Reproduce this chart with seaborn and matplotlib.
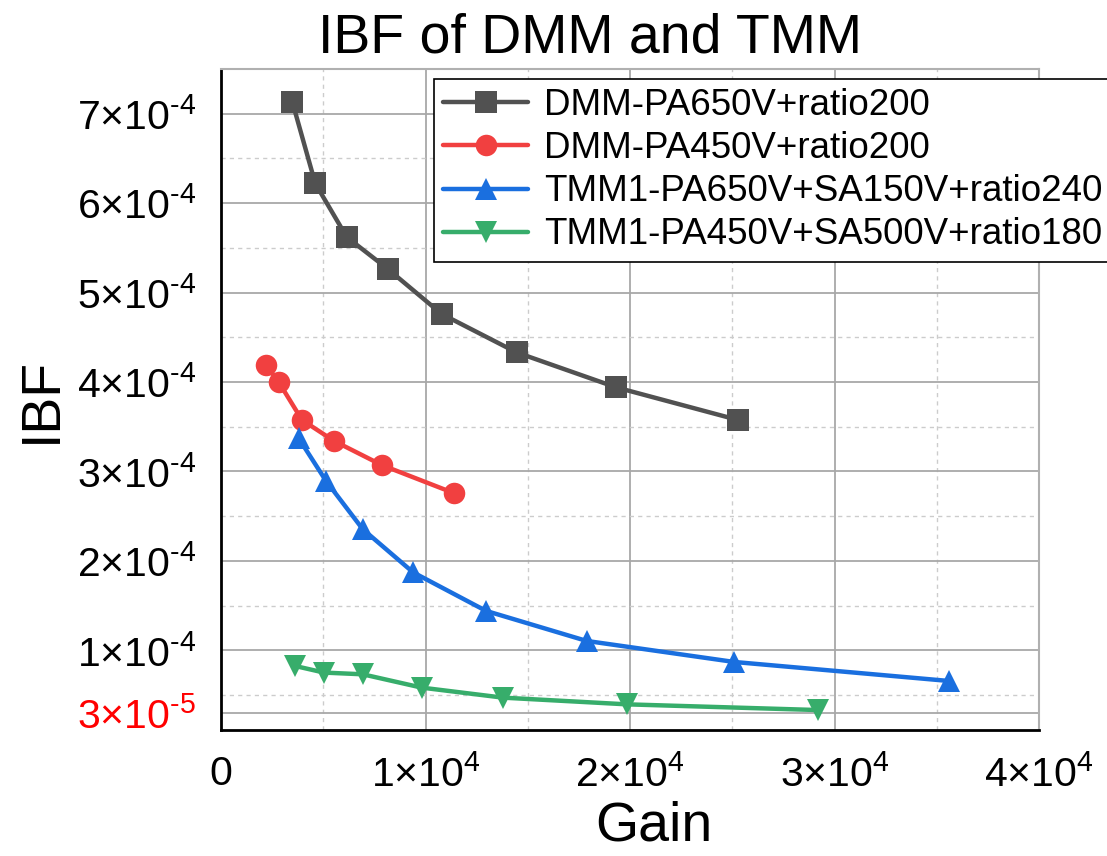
import numpy as np
import pandas as pd
import seaborn as sns
import matplotlib
matplotlib.use("Agg")
import matplotlib.pyplot as plt
from matplotlib.ticker import FixedLocator, MultipleLocator

# ---- data ----
labels = ["DMM-PA650V+ratio200", "DMM-PA450V+ratio200",
          "TMM1-PA650V+SA150V+ratio240", "TMM1-PA450V+SA500V+ratio180"]
gain_dmm650 = [3490, 4610, 6150, 8150, 10790, 14460, 19320, 25280]
ibf_dmm650 = [7.13e-4, 6.22e-4, 5.62e-4, 5.265e-4, 4.76e-4, 4.33e-4, 3.94e-4, 3.575e-4]
gain_dmm450 = [2190, 2820, 3960, 5530, 7870, 11390]
ibf_dmm450 = [4.19e-4, 4.00e-4, 3.575e-4, 3.34e-4, 3.07e-4, 2.757e-4]
gain_tmm650 = [3800, 5130, 6930, 9400, 12960, 17880, 25090, 35610]
ibf_tmm650 = [3.37e-4, 2.895e-4, 2.354e-4, 1.87e-4, 1.44e-4, 1.104e-4, 0.869e-4, 0.656e-4]
gain_tmm450 = [3620, 5040, 6930, 9810, 13780, 19840, 29210]
ibf_tmm450 = [0.824e-4, 0.75e-4, 0.731e-4, 0.582e-4, 0.47e-4, 0.395e-4, 0.331e-4]

y_ticks = [3e-5, 1e-4, 2e-4, 3e-4, 4e-4, 5e-4, 6e-4, 7e-4]
y_ticklabels = [r"$3{\times}10^{\text{-}5}$"] + [r"$%d{\times}10^{\text{-}4}$" % i for i in range(1, 8)]
x_ticks = [0, 1e4, 2e4, 3e4, 4e4]
x_ticklabels = ["0"] + [r"$%d{\times}10^{4}$" % i for i in range(1, 5)]

colors = ["#515151", "#F14040", "#1A6FDF", "#37AD6B"]
markers = ["s", "o", "^", "v"]

frames = []
for lab, g, v in zip(labels,
                     [gain_dmm650, gain_dmm450, gain_tmm650, gain_tmm450],
                     [ibf_dmm650, ibf_dmm450, ibf_tmm650, ibf_tmm450]):
    frames.append(pd.DataFrame({"Gain": g, "IBF": v, "series": lab}))
df = pd.concat(frames, ignore_index=True)

# ---- style ----
sns.set_theme(style="white")
plt.rcParams["font.family"] = ["Liberation Sans", "DejaVu Sans"]
plt.rcParams["mathtext.fontset"] = "custom"
plt.rcParams["mathtext.rm"] = "Liberation Sans"
plt.rcParams["mathtext.it"] = "Liberation Sans:italic"
plt.rcParams["mathtext.bf"] = "Liberation Sans:bold"
for k in ["text.color", "axes.labelcolor", "xtick.color", "ytick.color"]:
    plt.rcParams[k] = "black"

fig = plt.figure(figsize=(11.07, 8.56), dpi=100)
ax = fig.add_axes([221 / 1107, 1 - 730 / 856, (1039 - 221) / 1107, (730 - 69) / 856])

sns.lineplot(data=df, x="Gain", y="IBF", hue="series", style="series",
             hue_order=labels, style_order=labels,
             palette=dict(zip(labels, colors)),
             markers=dict(zip(labels, markers)), dashes=False,
             sort=False, estimator=None, ax=ax,
             linewidth=3.2, markersize=15.5, markeredgewidth=0)

ax.set_xlim(0, 4e4)
ax.set_ylim(1.08e-5, 7.5e-4)

ax.xaxis.set_major_locator(FixedLocator(x_ticks))
ax.set_xticklabels(x_ticklabels)
ax.xaxis.set_minor_locator(MultipleLocator(5e3))
ax.yaxis.set_major_locator(FixedLocator(y_ticks))
ax.set_yticklabels(y_ticklabels)
ax.yaxis.set_minor_locator(FixedLocator([0.5e-4 + i * 1e-4 for i in range(7)]))

ax.tick_params(axis="both", which="major", direction="out", length=10, width=1.6,
               labelsize=29.5, color="black", pad=8, labelcolor="black")
ax.tick_params(axis="both", which="minor", direction="out", length=5, width=1.4,
               color="black")
ax.yaxis.get_major_ticks()[0].tick1line.set_visible(False)
ax.get_yticklabels()[0].set_color("red")

ax.grid(True, which="major", color="#a8a8a8", linestyle="-", linewidth=1.3)
ax.grid(True, which="minor", color="#cccccc", linestyle=(0, (3, 3)), linewidth=1.0)
ax.set_axisbelow(True)

for s in ["left", "bottom"]:
    ax.spines[s].set_color("black")
    ax.spines[s].set_linewidth(2.0)
for s in ["top", "right"]:
    ax.spines[s].set_color("#b0b0b0")
    ax.spines[s].set_linewidth(1.5)

ax.set_xlabel("Gain", fontsize=40, labelpad=4, color="black",
              x=(654 - 221) / (1039 - 221))
ax.set_ylabel("IBF", fontsize=40, labelpad=6, color="black")
ax.set_title("IBF of DMM and TMM", fontsize=40, pad=12, color="black",
             x=(590 - 221) / (1039 - 221))

handles, labs = ax.get_legend_handles_labels()
if ax.get_legend() is not None:
    ax.get_legend().remove()
leg = fig.legend(handles, labs, loc="upper left", bbox_to_anchor=(434 / 1107, 1 - 79 / 856),
                 fontsize=26.5, frameon=True, fancybox=False, edgecolor="black",
                 framealpha=1, handlelength=2.3, handletextpad=0.45, borderpad=0.25,
                 labelspacing=0.22, borderaxespad=0, labelcolor="black")
leg.get_frame().set_linewidth(1.2)
for line in leg.get_lines():
    line.set_linewidth(3.2)
    line.set_markersize(15.5)

fig.savefig("out.png", dpi=100)
